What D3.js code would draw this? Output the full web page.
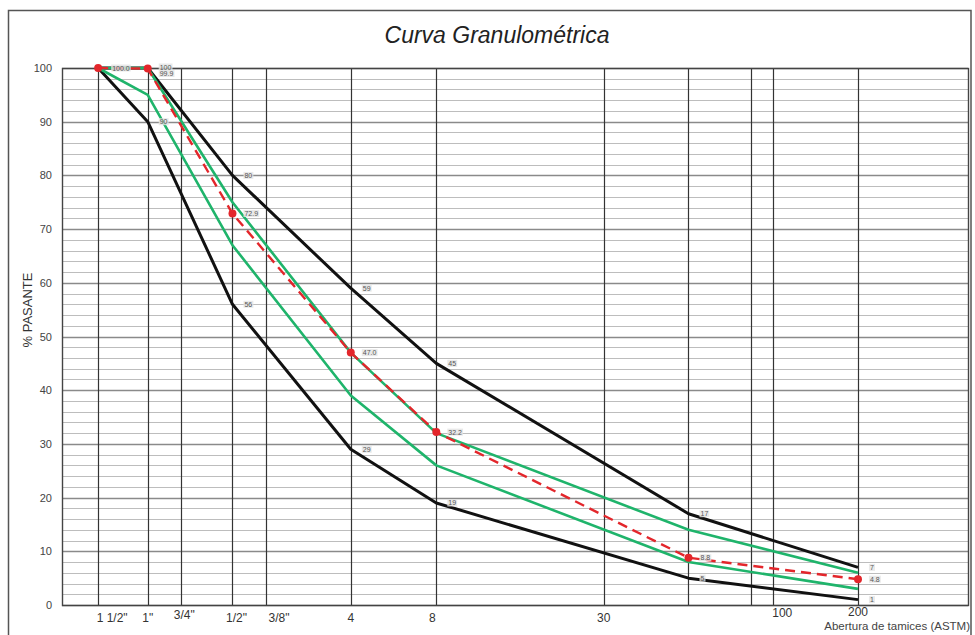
<!DOCTYPE html>
<html>
<head>
<meta charset="utf-8">
<script src="https://cdn.jsdelivr.net/npm/d3@7"></script>
<style>
  body { margin: 0; background: #fff; }
  svg { display: block; font-family: "Liberation Sans", Arial, sans-serif; }
</style>
</head>
<body>
<div id="chart"></div>
<script>
// sieve openings (mm) and their ASTM names
const sieveSizes = [37.5, 25, 19, 12.5, 9.5, 4.75, 2.36, 0.6, 0.3, 0.18, 0.15, 0.075];
const sieveLabels = ["1 1/2\"", "1\"", "3/4\"", "1/2\"", "3/8\"", "4", "8", "30", "", "", "100", "200"];

// sieves used by the curves
const curveSizes = [37.5, 25, 12.5, 4.75, 2.36, 0.3, 0.075];
const upperLimit = [100, 100, 80, 59, 45, 17, 7];
const lowerLimit = [100, 90, 56, 29, 19, 5, 1];
const greenUpper = [100, 100, 75, 47, 32, 14, 6];
const greenLower = [100, 95, 67, 39, 26, 8, 3];
const sample = [100.0, 99.9, 72.9, 47.0, 32.2, 8.8, 4.8];

const yTicks = [0, 10, 20, 30, 40, 50, 60, 70, 80, 90, 100];

const W = 975, H = 635;
const margin = { top: 68, right: 7, bottom: 30, left: 62 };

const svg = d3.select("#chart")
    .append("svg")
    .attr("width", W)
    .attr("height", H);

// outer frame
svg.append("rect")
    .attr("x", 8.5).attr("y", 10.5)
    .attr("width", W - 4 - 8.5).attr("height", H + 10)
    .attr("fill", "none")
    .attr("stroke", "#555")
    .attr("stroke-width", 1.5);

svg.append("text")
    .attr("x", 497).attr("y", 43)
    .attr("text-anchor", "middle")
    .attr("font-size", 23)
    .attr("font-style", "italic")
    .attr("fill", "#222")
    .text("Curva Granulométrica");

const x = d3.scaleLog()
    .domain([50.4, 0.0305])
    .range([margin.left, W - margin.right]);
const y = d3.scaleLinear()
    .domain([0, 100])
    .range([H - margin.bottom, margin.top]);

const grid = svg.append("g");

// horizontal grid every 2 %
const minor = d3.range(0, 101, 2);
grid.selectAll(".hline")
    .data(minor)
    .enter()
    .append("line")
    .attr("x1", x.range()[0]).attr("x2", x.range()[1])
    .attr("y1", d => Math.round(y(d)) + 0.5)
    .attr("y2", d => Math.round(y(d)) + 0.5)
    .attr("stroke", d => d % 10 === 0 ? "#8a8a8a" : "#bdbdbd")
    .attr("stroke-width", d => d % 10 === 0 ? 1.4 : 1);

// sieve verticals
grid.selectAll(".vline")
    .data(sieveSizes)
    .enter()
    .append("line")
    .attr("x1", d => Math.round(x(d)) + 0.5).attr("x2", d => Math.round(x(d)) + 0.5)
    .attr("y1", y(100)).attr("y2", y(0))
    .attr("stroke", "#333")
    .attr("stroke-width", 1.2);

// plot frame
svg.append("rect")
    .attr("x", x.range()[0] + 0.5).attr("y", y(100) + 0.5)
    .attr("width", x.range()[1] - x.range()[0])
    .attr("height", y(0) - y(100))
    .attr("fill", "none")
    .attr("stroke", "#444")
    .attr("stroke-width", 1.4);

// y axis labels
svg.append("g")
    .selectAll("text")
    .data(yTicks)
    .enter()
    .append("text")
    .attr("x", 52)
    .attr("y", d => y(d) + 4)
    .attr("text-anchor", "end")
    .attr("font-size", 11)
    .attr("fill", "#444")
    .text(d => d);

svg.append("text")
    .attr("transform", "translate(32,310) rotate(-90)")
    .attr("text-anchor", "middle")
    .attr("font-size", 13)
    .attr("fill", "#333")
    .text("% PASANTE");

// x axis labels (small nudges to follow the original layout)
const labelNudge = { 0: [14, 0], 2: [3, -3], 3: [4, 0], 4: [13, 0], 5: [0, 0], 6: [-4, 0], 10: [9, -5], 11: [0, -6] };
svg.append("g")
    .selectAll("text")
    .data(sieveSizes.map((s, i) => ({ s, label: sieveLabels[i], i })).filter(d => d.label))
    .enter()
    .append("text")
    .attr("x", d => x(d.s) + (labelNudge[d.i] ? labelNudge[d.i][0] : 0))
    .attr("y", d => 622 + (labelNudge[d.i] ? labelNudge[d.i][1] : 0))
    .attr("text-anchor", "middle")
    .attr("font-size", 12)
    .attr("fill", "#333")
    .text(d => d.label);

svg.append("text")
    .attr("x", 970).attr("y", 630)
    .attr("text-anchor", "end")
    .attr("font-size", 11.5)
    .attr("fill", "#444")
    .text("Abertura de tamices (ASTM)");

const line = d3.line()
    .x(d => x(d.s))
    .y(d => y(d.v));
const toPts = vals => vals.map((v, i) => ({ s: curveSizes[i], v }));

const curves = [
    { vals: lowerLimit, color: "#111", width: 3, dash: null },
    { vals: upperLimit, color: "#111", width: 3, dash: null },
    { vals: greenLower, color: "#1fb46b", width: 2.6, dash: null },
    { vals: greenUpper, color: "#1fb46b", width: 2.6, dash: null },
    { vals: sample, color: "#e3262b", width: 2.4, dash: "10,6" }
];

svg.append("g")
    .selectAll("path")
    .data(curves)
    .enter()
    .append("path")
    .attr("d", d => line(toPts(d.vals)))
    .attr("fill", "none")
    .attr("stroke", d => d.color)
    .attr("stroke-width", d => d.width)
    .attr("stroke-dasharray", d => d.dash)
    .attr("stroke-linejoin", "round");

// sample markers
svg.append("g")
    .selectAll("circle")
    .data(toPts(sample))
    .enter()
    .append("circle")
    .attr("cx", d => x(d.s))
    .attr("cy", d => y(d.v))
    .attr("r", 4)
    .attr("fill", "#e3262b");

// data labels
const labels = svg.append("g");
function addLabels(vals, fmt, skipFirst, dy) {
    toPts(vals).forEach((d, i) => {
        if (skipFirst && i === 0) return;
        const t = labels.append("text")
            .attr("x", x(d.s) + (i === 0 ? 14 : 12))
            .attr("y", y(d.v) + 2.5 + (dy[i] || 0))
            .attr("font-size", 7)
            .attr("fill", "#555")
            .text(fmt(d.v));
        const b = t.node().getBBox();
        labels.insert("rect", () => t.node())
            .attr("x", b.x - 1).attr("y", b.y)
            .attr("width", b.width + 2).attr("height", b.height)
            .attr("fill", "#e4e4e4")
            .attr("opacity", 0.8);
    });
}
addLabels(upperLimit, d3.format("d"), true, { 1: -1 });
addLabels(lowerLimit, d3.format("d"), true, {});
addLabels(sample, d3.format(".1f"), false, { 1: 5 });
</script>
</body>
</html>
